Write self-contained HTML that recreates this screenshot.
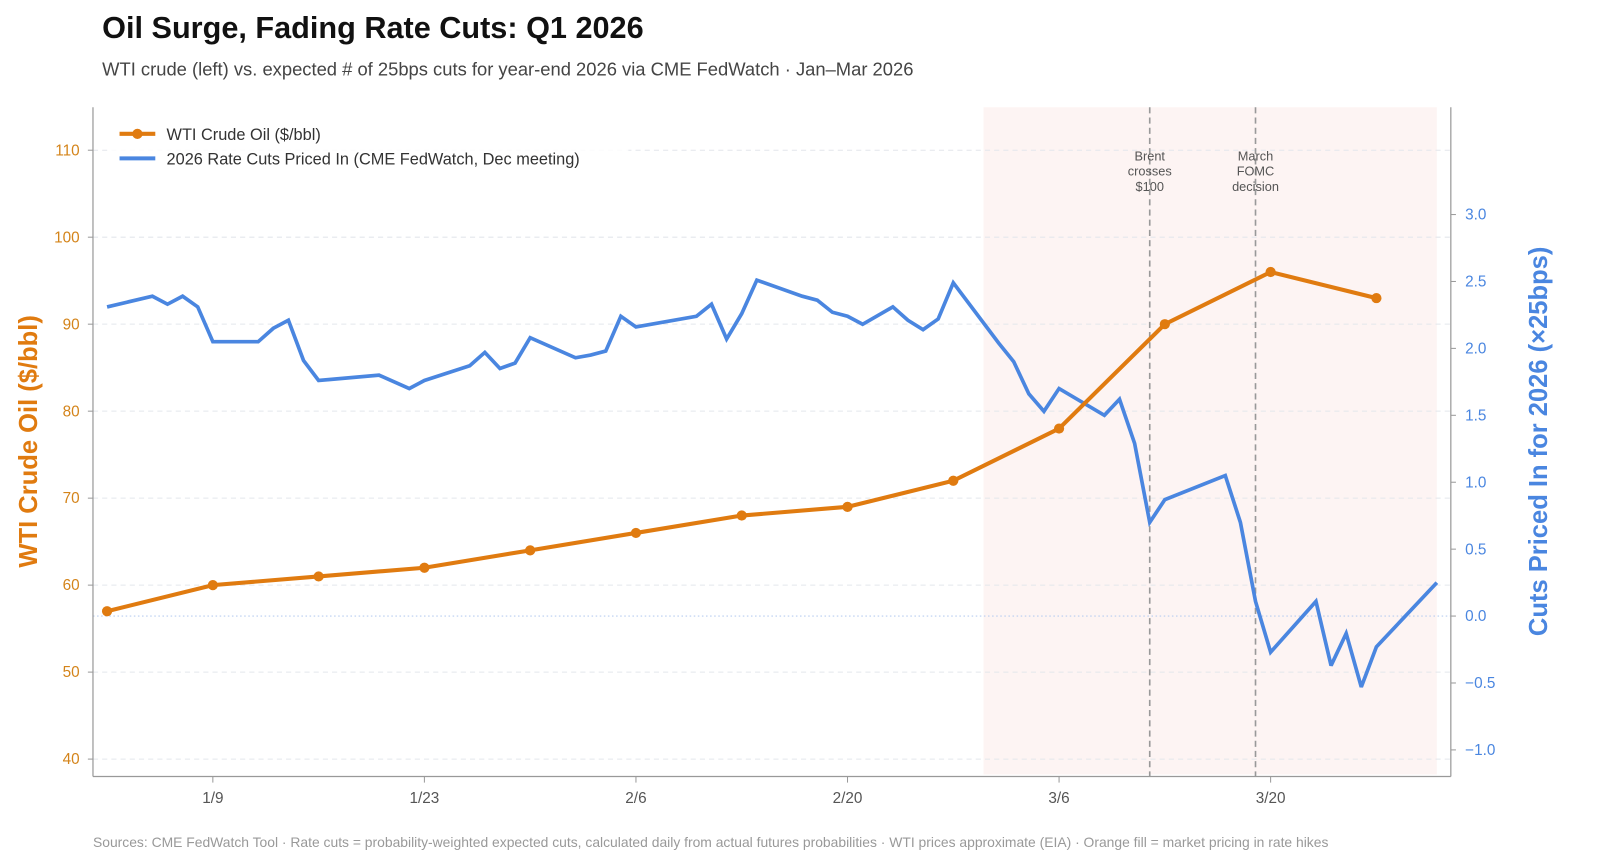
<!DOCTYPE html>
<html><head><meta charset="utf-8"><style>
html,body{margin:0;padding:0;background:#fff;}
svg{display:block;font-family:"Liberation Sans","DejaVu Sans",sans-serif;}
</style></head><body>
<svg width="1600" height="863" viewBox="0 0 1566 844.7" preserveAspectRatio="none" xmlns="http://www.w3.org/2000/svg">
<g id="root"></g>
</svg>
<script>
const oilDays=[1,8,15,22,29,36,43,50,57,64,71,78,85];
const oilValues=[57,60,61,62,64,66,68,69,72,78,90,96,93];
const cutDays=[1,4,5,6,7,8,11,12,13,14,15,19,21,22,25,26,27,28,29,32,33,34,35,36,40,41,42,43,44,47,48,49,50,51,53,54,55,56,57,60,61,62,63,64,67,68,69,70,71,75,76,77,78,81,82,83,84,85,89];
const cutValues=[2.31,2.39,2.33,2.39,2.31,2.05,2.05,2.15,2.21,1.91,1.76,1.80,1.70,1.76,1.87,1.97,1.85,1.89,2.08,1.93,1.95,1.98,2.24,2.16,2.24,2.33,2.07,2.26,2.51,2.39,2.36,2.27,2.24,2.18,2.31,2.21,2.14,2.22,2.49,2.04,1.90,1.66,1.53,1.70,1.50,1.62,1.29,0.70,0.87,1.05,0.70,0.11,-0.27,0.11,-0.37,-0.13,-0.53,-0.23,0.25];
const leftTicks=[40,50,60,70,80,90,100,110];
const rightTicks=[-1.0,-0.5,0.0,0.5,1.0,1.5,2.0,2.5,3.0];
const xTickDays=[8,22,36,50,64,78];
const xTickLabels=["1/9","1/23","2/6","2/20","3/6","3/20"];
const eventDays=[70,77];
const eventLabels=[["Brent","crosses","$100"],["March","FOMC","decision"]];
const shadeStart=59, shadeEnd=89;

const NS="http://www.w3.org/2000/svg";
const root=document.getElementById('root');
function el(tag,attrs,parent){const e=document.createElementNS(NS,tag);for(const k in attrs)e.setAttribute(k,attrs[k]);(parent||root).appendChild(e);return e;}
const X=d=>90+d*14.79;
const YL=v=>743-(v-40)*8.514;
const YR=v=>603-v*131;
const plotTop=105,plotBottom=760,plotLeft=91,plotRight=1420;
const ORANGE="#e07b10",BLUE="#4a86e0";

let e;
e=el('text',{x:100,y:37,'font-size':30,'font-weight':'bold',fill:'#111'});e.textContent="Oil Surge, Fading Rate Cuts: Q1 2026";

e=el('text',{x:100,y:74,'font-size':18,fill:'#444'});e.textContent="WTI crude (left) vs. expected # of 25bps cuts for year-end 2026 via CME FedWatch · Jan–Mar 2026";


e=el('rect',{x:X(shadeStart),y:plotTop,width:X(shadeEnd)-X(shadeStart),height:plotBottom-plotTop-2,fill:'#fdf4f3'});


leftTicks.forEach(v=>{
 const y=YL(v);
 let g=el('line',{x1:plotLeft,x2:plotRight,y1:y,y2:y,stroke:'#e3e6ec','stroke-dasharray':'5,4','stroke-width':1});
 
 el('line',{x1:plotLeft-5,x2:plotLeft,y1:y,y2:y,stroke:'#999'});
 let t=el('text',{x:plotLeft-13,y:y+5,'text-anchor':'end','font-size':15,fill:'#d4841a'});t.textContent=v;
 
});
e=el('line',{x1:plotLeft,x2:plotRight,y1:YR(0),y2:YR(0),stroke:'#b8cdf0','stroke-dasharray':'1.5,2.5'});

rightTicks.forEach(v=>{
 const y=YR(v);
 el('line',{x1:plotRight,x2:plotRight+5,y1:y,y2:y,stroke:'#999'});
 let t=el('text',{x:plotRight+14,y:y+5,'font-size':15,fill:BLUE});t.textContent=(v<0?'−':'')+Math.abs(v).toFixed(1);
 
});
xTickDays.forEach((d,i)=>{
 const x=X(d);
 el('line',{x1:x,x2:x,y1:plotBottom,y2:plotBottom+6,stroke:'#999'});
 let t=el('text',{x:x,y:plotBottom+26,'text-anchor':'middle','font-size':15,fill:'#555'});t.textContent=xTickLabels[i];
 
});
eventDays.forEach((d,i)=>{
 const x=X(d);
 let l=el('line',{x1:x,x2:x,y1:plotTop,y2:plotBottom,stroke:'#999','stroke-dasharray':'6,4','stroke-width':1.6});
 
 eventLabels[i].forEach((s,j)=>{let t=el('text',{x:x,y:157+j*15,'text-anchor':'middle','font-size':12.5,fill:'#555'});t.textContent=s;
 });
});
el('line',{x1:plotLeft,x2:plotLeft,y1:plotTop,y2:plotBottom,stroke:'#999','stroke-width':1.2});
el('line',{x1:plotRight,x2:plotRight,y1:plotTop,y2:plotBottom,stroke:'#999','stroke-width':1.2});
el('line',{x1:plotLeft,x2:plotRight,y1:plotBottom,y2:plotBottom,stroke:'#999','stroke-width':1.2});

e=el('polyline',{points:cutDays.map((d,i)=>X(d)+','+YR(cutValues[i])).join(' '),fill:'none',stroke:BLUE,'stroke-width':3.6,'stroke-linejoin':'miter','stroke-miterlimit':3});

e=el('polyline',{points:oilDays.map((d,i)=>X(d)+','+YL(oilValues[i])).join(' '),fill:'none',stroke:ORANGE,'stroke-width':4});

oilDays.forEach((d,i)=>{
 const c=el('circle',{cx:X(d),cy:YL(oilValues[i]),r:5,fill:ORANGE});
 
 
});

e=el('rect',{x:105,y:115,width:510,height:55,fill:'#fff',opacity:0.85});
el('line',{x1:117,x2:152,y1:131,y2:131,stroke:ORANGE,'stroke-width':4});
el('circle',{cx:134.5,cy:131,r:5,fill:ORANGE});
e=el('text',{x:163,y:137,'font-size':16,fill:'#333'});e.textContent="WTI Crude Oil ($/bbl)";

el('line',{x1:117,x2:152,y1:155,y2:155,stroke:BLUE,'stroke-width':4});
e=el('text',{x:163,y:161,'font-size':16,fill:'#333'});e.textContent="2026 Rate Cuts Priced In (CME FedWatch, Dec meeting)";


e=el('text',{x:0,y:0,transform:'translate(36,432) rotate(-90)','text-anchor':'middle','font-size':25,'font-weight':'bold',fill:ORANGE});e.textContent="WTI Crude Oil ($/bbl)";

e=el('text',{x:0,y:0,transform:'translate(1514,432) rotate(-90)','text-anchor':'middle','font-size':25,'font-weight':'bold',fill:BLUE});e.textContent="Cuts Priced In for 2026 (×25bps)";


e=el('text',{x:91,y:829,'font-size':13.6,fill:'#999'});e.textContent="Sources: CME FedWatch Tool · Rate cuts = probability-weighted expected cuts, calculated daily from actual futures probabilities · WTI prices approximate (EIA) · Orange fill = market pricing in rate hikes";

</script>
</body></html>
